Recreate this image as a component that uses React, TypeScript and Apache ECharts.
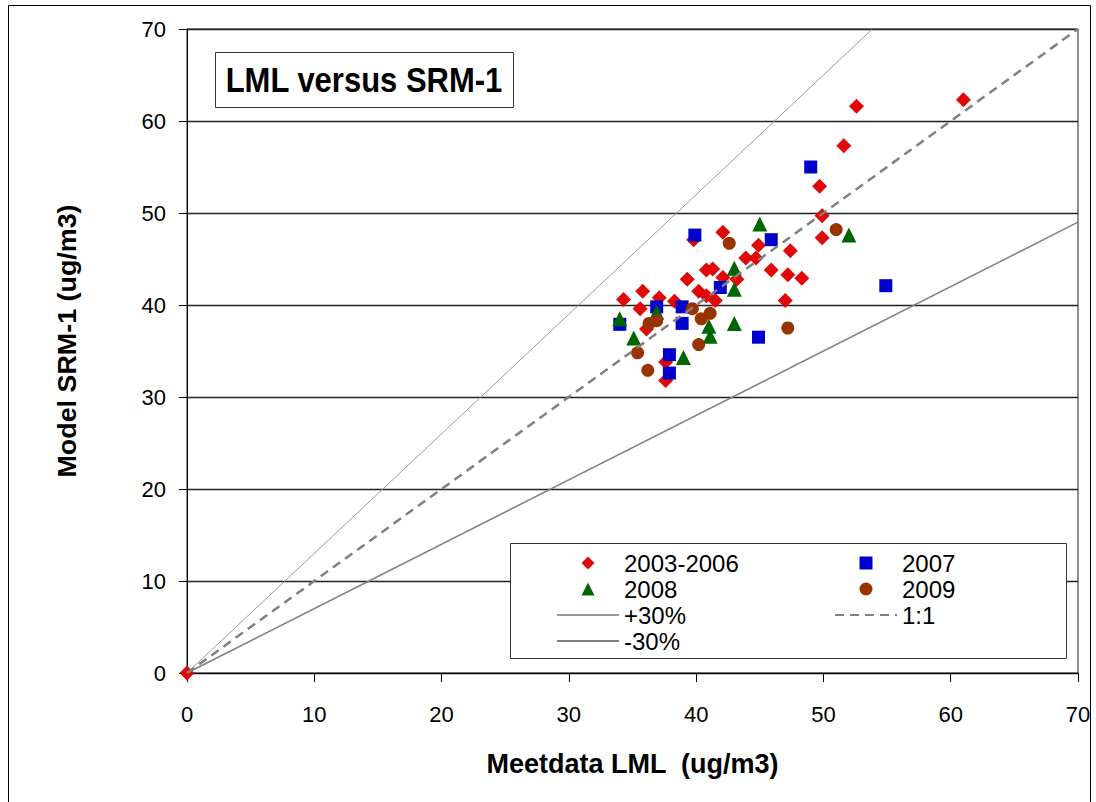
import React, { useEffect, useRef } from "react";
import * as echarts from "echarts";

// ---- data ----
const pts2003_2006: [number, number][] = [
  [0, 0], [52.6, 61.6], [61.0, 62.3], [51.6, 57.3], [49.7, 52.9], [49.9, 49.7],
  [49.9, 47.3], [42.1, 47.9], [39.8, 47.1], [44.9, 46.5], [47.4, 45.9], [43.9, 45.1],
  [44.7, 45.1], [45.9, 43.8], [47.2, 43.3], [48.3, 42.9], [40.8, 43.8], [41.3, 43.9],
  [42.1, 43.0], [43.2, 42.8], [39.3, 42.8], [35.8, 41.5], [34.3, 40.6], [37.1, 40.8],
  [38.3, 40.4], [40.2, 41.5], [40.8, 41.0], [41.5, 40.5], [35.6, 39.6], [36.1, 37.4],
  [47.0, 40.5], [37.6, 33.8], [37.6, 31.8],
];
const pts2007: [number, number][] = [
  [39.9, 47.6], [45.9, 47.1], [41.9, 41.9], [36.9, 39.8], [38.9, 39.8], [34.0, 37.9],
  [38.9, 38.0], [44.9, 36.5], [37.9, 34.6], [37.9, 32.6], [54.9, 42.1], [49.0, 55.0],
];
const pts2008: [number, number][] = [
  [45.0, 48.8], [52.0, 47.6], [43.0, 44.0], [43.0, 41.7], [34.0, 38.5], [36.9, 39.2],
  [41.0, 37.7], [41.1, 36.6], [43.0, 38.0], [35.1, 36.4], [39.0, 34.3],
];
const pts2009: [number, number][] = [
  [51.0, 48.2], [42.6, 46.7], [39.7, 39.6], [40.4, 38.5], [41.1, 39.1], [36.3, 38.0],
  [36.9, 38.3], [47.2, 37.5], [40.2, 35.7], [35.4, 34.8], [36.2, 32.9],
];
const linePlus30: [number, number][] = [[0, 0], [53.85, 70]];
const lineOneToOne: [number, number][] = [[0, 0], [70, 70]];
const lineMinus30: [number, number][] = [[0, 0], [70, 49]];

const axisMin = 0;
const axisMax = 70;
const axisInterval = 10;

const FONT = "'Liberation Sans', Arial, sans-serif";

// legend icons as paths so that their aspect is kept inside the wide legend slot
const ICON_DIAMOND = "path://M6 0L12 6L6 12L0 6Z";
const ICON_SQUARE = "path://M1 1H11V11H1Z";
const ICON_TRIANGLE = "path://M6 0L12 12H0Z";
const ICON_CIRCLE = "path://M6 1A5 5 0 1 1 6 11A5 5 0 1 1 6 1Z";

export default function App() {
  const ref = useRef<HTMLDivElement>(null);

  useEffect(() => {
    if (!ref.current) return;
    const chart = echarts.init(ref.current, undefined, { renderer: "svg" });
    const legendCommon = {
      orient: "vertical" as const,
      top: 551,
      padding: 0,
      z: 60,
      itemWidth: 62,
      itemHeight: 13,
      itemGap: 2,
      symbolKeepAspect: true,
      selectedMode: false,
      textStyle: { fontSize: 24, fontFamily: FONT, color: "#000", lineHeight: 24 },
    };
    const hiddenSymbol = { color: "transparent", borderColor: "transparent", borderWidth: 0, opacity: 0 };
    chart.setOption({
      animation: false,
      backgroundColor: "#fff",
      textStyle: { fontFamily: FONT },
      grid: {
        left: 187,
        top: 29,
        right: 18,
        bottom: 129,
        show: true,
        borderColor: "#222",
        borderWidth: 1,
        backgroundColor: "transparent",
      },
      xAxis: {
        type: "value",
        min: axisMin,
        max: axisMax,
        interval: axisInterval,
        name: "Meetdata LML  (ug/m3)",
        nameLocation: "middle",
        nameGap: 77,
        nameTextStyle: { fontSize: 27, fontWeight: "bold", color: "#000", fontFamily: FONT },
        axisLine: { show: true, onZero: false, lineStyle: { color: "#000", width: 1 } },
        axisTick: { show: true, inside: false, length: 9, lineStyle: { color: "#000" } },
        axisLabel: { fontSize: 22, color: "#000", margin: 30, fontFamily: FONT },
        splitLine: { show: false },
      },
      yAxis: {
        type: "value",
        min: axisMin,
        max: axisMax,
        interval: axisInterval,
        axisLine: { show: true, onZero: false, lineStyle: { color: "#000", width: 1 } },
        axisTick: { show: true, inside: false, length: 8, lineStyle: { color: "#000" } },
        axisLabel: { fontSize: 22, color: "#000", margin: 21, fontFamily: FONT },
        splitLine: { show: true, lineStyle: { color: "#222", width: 1.3 } },
      },
      legend: [
        {
          ...legendCommon,
          left: 556,
          data: [
            { name: "2003-2006", icon: ICON_DIAMOND },
            { name: "2008", icon: ICON_TRIANGLE },
            { name: "+30%", itemStyle: hiddenSymbol },
            { name: "-30%", itemStyle: hiddenSymbol },
          ],
        },
        {
          ...legendCommon,
          left: 834,
          data: [
            { name: "2007", icon: ICON_SQUARE },
            { name: "2009", icon: ICON_CIRCLE },
            { name: "1:1", itemStyle: hiddenSymbol },
          ],
        },
      ],
      graphic: [
        {
          type: "rect",
          z: 0,
          shape: { x: 8.5, y: 5.5, width: 1082, height: 800 },
          style: { fill: "none", stroke: "#000", lineWidth: 1 },
          silent: true,
        },
        {
          type: "rect",
          z: 50,
          shape: { x: 215.5, y: 52.5, width: 298, height: 55 },
          style: { fill: "#fff", stroke: "#333", lineWidth: 1 },
          silent: true,
        },
        {
          type: "text",
          z: 51,
          x: 364,
          y: 80,
          scaleY: 1.15,
          style: {
            text: "LML versus SRM-1",
            font: `bold 31px ${FONT}`,
            fill: "#000",
            align: "center",
            verticalAlign: "middle",
          },
          silent: true,
        },
        {
          type: "rect",
          z: 50,
          shape: { x: 510.5, y: 543.5, width: 556, height: 115 },
          style: { fill: "#fff", stroke: "#333", lineWidth: 1 },
          silent: true,
        },
        {
          type: "text",
          z: 51,
          x: 67,
          y: 341,
          rotation: Math.PI / 2,
          scaleX: 1.075,
          style: {
            text: "Model SRM-1 (ug/m3)",
            font: `bold 25px ${FONT}`,
            fill: "#000",
            align: "center",
            verticalAlign: "middle",
          },
          silent: true,
        },
      ],
      series: [
        {
          name: "+30%",
          type: "line",
          data: linePlus30,
          symbol: "none",
          lineStyle: { color: "#9a9a9a", width: 1 },
          itemStyle: { color: "#9a9a9a" },
          silent: true,
        },
        {
          name: "1:1",
          type: "line",
          data: lineOneToOne,
          symbol: "none",
          lineStyle: { color: "#808080", width: 2.5, type: [9, 6] },
          itemStyle: { color: "#808080" },
          silent: true,
        },
        {
          name: "-30%",
          type: "line",
          data: lineMinus30,
          symbol: "none",
          lineStyle: { color: "#808080", width: 1.5 },
          itemStyle: { color: "#808080" },
          silent: true,
        },
        {
          name: "2003-2006",
          type: "scatter",
          data: pts2003_2006,
          symbol: "diamond",
          symbolSize: 15,
          itemStyle: { color: "#E00808", opacity: 1 },
          clip: false,
        },
        {
          name: "2007",
          type: "scatter",
          data: pts2007,
          symbol: "rect",
          symbolSize: 13,
          itemStyle: { color: "#0000CC", opacity: 1 },
        },
        {
          name: "2008",
          type: "scatter",
          data: pts2008,
          symbol: "triangle",
          symbolSize: 15,
          itemStyle: { color: "#006600", opacity: 1 },
        },
        {
          name: "2009",
          type: "scatter",
          data: pts2009,
          symbol: "circle",
          symbolSize: 13,
          itemStyle: { color: "#993300", opacity: 1 },
        },
      ],
    });
    return () => chart.dispose();
  }, []);

  return (
    <div
      ref={ref}
      style={{ position: "fixed", left: 0, top: 0, width: 1096, height: 802 }}
    />
  );
}
